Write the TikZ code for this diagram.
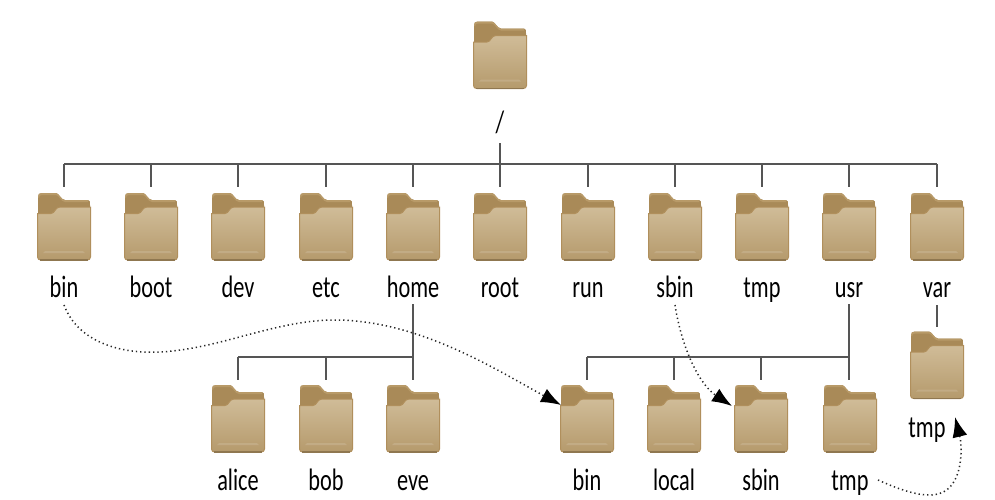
\documentclass[tikz,border=0pt]{standalone}
\usepackage{fontspec}
\setmainfont[FakeStretch=0.72]{Carlito}
\usetikzlibrary{arrows.meta}
\definecolor{branch}{HTML}{555555}
\definecolor{tabdark}{HTML}{A98A58}
\definecolor{tabtop}{HTML}{B89A68}
\definecolor{fronttop}{HTML}{D0BC98}
\definecolor{frontbot}{HTML}{B59A6C}
\definecolor{frontedge}{HTML}{B08F5C}
\definecolor{frontbase}{HTML}{8F7750}
\newcommand\folderart[1]{%
  \begin{scope}[shift={(#1.north west)}]
    \fill[tabdark] (1,4) .. controls (1,1) and (2,0) .. (5,0) -- (19,0) .. controls (22,0) and (24,7) .. (28,7) -- (51,7) .. controls (53,7) and (53,9) .. (53,12) -- (53,24) -- (1,24) -- cycle;
    \fill[tabtop] (1,4) .. controls (1,1) and (2,0) .. (5,0) -- (19,0) .. controls (22,0) and (24,7) .. (28,7) -- (51,7) -- (51,9) -- (28,9) .. controls (24,9) and (22,2) .. (19,2) -- (5,2) .. controls (3,2) and (2,3) .. (2,5) -- cycle;
    \shade[top color=fronttop,bottom color=frontbot,draw=frontedge,line width=1pt]
      (0.5,20.5) -- (14,20.5) .. controls (18,20.5) and (18,14) .. (23,14) -- (53.5,14) -- (53.5,64) .. controls (53.5,66) and (52,67) .. (50,67) -- (4,67) .. controls (2,67) and (0.5,66) .. (0.5,64) -- cycle;
    \fill[white,opacity=.13] (8,58) -- (46,58) -- (48,60) -- (6,60) -- cycle;
    \draw[frontbase,line width=1.2pt] (3,67) -- (51,67);
  \end{scope}}
\tikzset{
  x=1pt,y=-1pt,
  folder/.style={minimum width=54pt,minimum height=69pt,inner sep=0pt,outer sep=0pt},
  fname/.style={font=\fontsize{31}{31}\selectfont,text=black,inner sep=0pt,outer sep=0pt,anchor=base,text height=20pt,text depth=6pt},
  treeline/.style={draw=branch,line width=1.8pt},
  linkline/.style={draw=black!85,line width=1.5pt,dash pattern=on 1.3pt off 3pt,-{Latex[length=20pt,width=15pt,black]}},
}
\begin{document}
\begin{tikzpicture}
\useasboundingbox (0,0) rectangle (995,499);
\fill[white] (0,0) rectangle (995,499);
% root
\node[folder] (f-root) at (500,56) {};
\folderart{f-root}
\node[font=\fontsize{31}{31}\selectfont,text=black,inner sep=0pt] (l-root) at (500,122) {/};
% first level
\foreach \n/\x in {bin/64,boot/151,dev/238,etc/326,home/413,root/500,run/588,sbin/675,tmp/762,usr/849,var/937}{
  \node[folder] (f-\n) at (\x,227.5) {};
  \folderart{f-\n}
  \node[fname] (l-\n) at (\x,297) {\n};
}
% second level
\foreach \n/\t/\x in {alice/alice/238,bob/bob/326,eve/eve/413,ubin/bin/587,local/local/674,usbin/sbin/761,utmp/tmp/850}{
  \node[folder] (f-\n) at (\x,419.5) {};
  \folderart{f-\n}
  \node[fname] (l-\n) at (\x,490) {\t};
}
\node[folder] (f-vtmp) at (937,366) {};
\folderart{f-vtmp}
\node[fname] (l-vtmp) at (927,437) {tmp};
% tree lines
\coordinate (rootdrop) at (500,143);
\coordinate (bus) at (500,164);
\draw[treeline] (rootdrop) -- (f-root.south |- 0,187);
\draw[treeline] (l-bin.north |- bus) -- (l-var.north |- bus);
\foreach \n in {bin,boot,dev,etc,home,run,sbin,tmp,usr,var}
  \draw[treeline] (f-\n.north |- bus) -- (f-\n.north |- 0,187);
\coordinate (homebus) at (413,357);
\coordinate (usrbus) at (849,357);
\draw[treeline] (l-home.south |- 0,304) -- (f-eve.north |- 0,380);
\draw[treeline] (homebus) -- (f-alice.north |- homebus);
\draw[treeline] (f-alice.north |- homebus) -- (f-alice.north |- 0,380);
\draw[treeline] (f-bob.north |- homebus) -- (f-bob.north |- 0,380);
\draw[treeline] (l-usr.south |- 0,304) -- (l-usr.south |- 0,380);
\draw[treeline] (usrbus) -- (f-ubin.north |- usrbus);
\foreach \n in {ubin,local,usbin}
  \draw[treeline] (f-\n.north |- usrbus) -- (f-\n.north |- 0,380);
\draw[treeline] (f-var.south |- 0,305) -- (f-vtmp.north |- 0,327);
% symbolic links
\coordinate (bin-s) at (64,305);
\coordinate (bin-e) at (561,405);
\coordinate (sbin-s) at (675,305);
\coordinate (sbin-e) at (732,406);
\coordinate (tmp-s) at (878,480);
\coordinate (tmp-e) at (955,417);
\draw[linkline] (bin-s) .. controls (78,342) and (120,354) .. (160,352) .. controls (220,349) and (275,320) .. (335,320) .. controls (420,320) and (500,372) .. (bin-e);
\draw[linkline] (sbin-s) .. controls (682,350) and (700,385) .. (sbin-e);
\draw[linkline] (tmp-s) .. controls (905,492) and (935,503) .. (950,487) .. controls (963,473) and (962,445) .. (tmp-e);
\end{tikzpicture}
\end{document}
